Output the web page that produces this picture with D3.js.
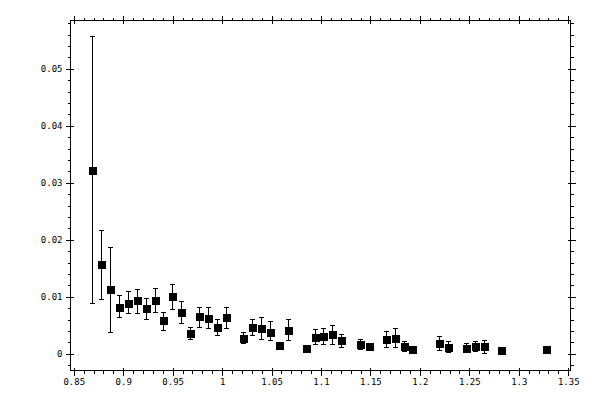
<!DOCTYPE html>
<html>
<head>
<meta charset="utf-8">
<script src="https://cdn.jsdelivr.net/npm/d3@7"></script>
<style>
  html, body { margin: 0; padding: 0; background: #fff; }
  svg { display: block; }
  .axis text { font-family: "DejaVu Sans Mono", monospace; font-size: 9px; fill: #000; }
  .axis line, .axis path { stroke: #000; shape-rendering: crispEdges; }
</style>
</head>
<body>
<div id="chart"></div>
<script>
// measured points: x, y, lower / upper end of the error bar
const xs = [0.8692, 0.878, 0.8874, 0.8965, 0.9056, 0.9147, 0.9238, 0.9323, 0.941, 0.9501,
  0.9592, 0.9683, 0.9774, 0.9865, 0.9953, 1.0047, 1.0219, 1.031, 1.0401, 1.0492,
  1.0583, 1.0674, 1.0856, 1.0947, 1.1028, 1.1119, 1.121, 1.1396, 1.1487, 1.1666,
  1.1757, 1.1844, 1.1928, 1.2201, 1.2292, 1.2474, 1.2565, 1.2657, 1.2828, 1.3284];
const ys = [0.0322, 0.0156, 0.0112, 0.0082, 0.0089, 0.0093, 0.0079, 0.0093, 0.0058, 0.0100,
  0.0072, 0.0035, 0.0065, 0.0062, 0.0046, 0.0063, 0.0026, 0.0046, 0.0044, 0.0038,
  0.0015, 0.0040, 0.0010, 0.0028, 0.0030, 0.0033, 0.0023, 0.0016, 0.0012, 0.0025,
  0.0026, 0.0012, 0.0007, 0.0018, 0.0011, 0.0009, 0.0012, 0.0012, 0.0005, 0.0007];
const lows = [0.0088, 0.0095, 0.0037, 0.0063, 0.0070, 0.0070, 0.0061, 0.0072, 0.0040, 0.0077,
  0.0053, 0.0025, 0.0046, 0.0044, 0.0032, 0.0044, 0.0018, 0.0032, 0.0025, 0.0023,
  0.0012, 0.0023, 0.0008, 0.0016, 0.0017, 0.0017, 0.0011, 0.0007, 0.0010, 0.0011,
  0.0011, 0.0004, 0.0006, 0.0005, 0.0002, 0.0002, 0.0004, 0.0000, 0.0004, 0.0005];
const highs = [0.0557, 0.0217, 0.0187, 0.0103, 0.0110, 0.0113, 0.0097, 0.0115, 0.0073, 0.0122,
  0.0091, 0.0046, 0.0082, 0.0081, 0.0061, 0.0082, 0.0037, 0.0061, 0.0063, 0.0056,
  0.0018, 0.0060, 0.0012, 0.0042, 0.0044, 0.0049, 0.0033, 0.0025, 0.0014, 0.0039,
  0.0044, 0.0021, 0.0009, 0.0030, 0.0021, 0.0018, 0.0021, 0.0023, 0.0007, 0.0009];

const xTicks = [0.85, 0.9, 0.95, 1, 1.05, 1.1, 1.15, 1.2, 1.25, 1.3, 1.35];
const xTickLabels = ['0.85', '0.9', '0.95', '1', '1.05', '1.1', '1.15', '1.2', '1.25', '1.3', '1.35'];
const yTicks = [0, 0.01, 0.02, 0.03, 0.04, 0.05];
const yTickLabels = ['0', '0.01', '0.02', '0.03', '0.04', '0.05'];
const xDomain = [0.8467, 1.3523];
const yDomain = [-0.00293, 0.05847];

const width = 600;
const height = 400;
const plotLeft = 70, plotRight = 570, plotTop = 20, plotBottom = 370;

const svg = d3.select('#chart').append('svg')
  .attr('width', width)
  .attr('height', height);

const x = d3.scaleLinear().domain(xDomain).range([plotLeft, plotRight]);
const y = d3.scaleLinear().domain(yDomain).range([plotBottom, plotTop]);

const xMinor = d3.range(85, 136).map(d => d / 100).filter(d => !xTicks.some(t => Math.abs(t - d) < 1e-9));
const yMinor = d3.range(-1, 30).map(d => d / 500).filter(d => !yTicks.some(t => Math.abs(t - d) < 1e-9));

const labelFor = (ticks, labels) => d => labels[ticks.findIndex(t => Math.abs(t - d) < 1e-9)];

// one side of the frame: outward major ticks, inward major ticks, outward minor ticks
const drawSide = (axisFn, scale, ticks, minor, transform, labels) => {
  const out = axisFn(scale).tickValues(ticks).tickSizeInner(5).tickSizeOuter(0).tickPadding(3)
    .tickFormat(labels ? labelFor(ticks, labels) : () => '');
  svg.append('g').attr('class', 'axis').attr('transform', transform).call(out)
    .select('.domain').remove();

  svg.append('g').attr('class', 'axis').attr('transform', transform)
    .call(axisFn(scale).tickValues(ticks).tickSizeInner(-3).tickSizeOuter(0).tickFormat(() => ''))
    .select('.domain').remove();

  svg.append('g').attr('class', 'axis').attr('transform', transform)
    .call(axisFn(scale).tickValues(minor).tickSizeInner(3).tickSizeOuter(0).tickFormat(() => ''))
    .select('.domain').remove();
};

drawSide(d3.axisBottom, x, xTicks, xMinor, `translate(0.5,${plotBottom + 0.5})`, xTickLabels);
drawSide(d3.axisTop, x, xTicks, xMinor, `translate(0.5,${plotTop + 0.5})`);
drawSide(d3.axisLeft, y, yTicks, yMinor, `translate(${plotLeft + 0.5},0.5)`, yTickLabels);
drawSide(d3.axisRight, y, yTicks, yMinor, `translate(${plotRight + 0.5},0.5)`);

svg.append('rect')
  .attr('x', plotLeft + 0.5)
  .attr('y', plotTop + 0.5)
  .attr('width', plotRight - plotLeft)
  .attr('height', plotBottom - plotTop)
  .attr('fill', 'none')
  .attr('stroke', '#000')
  .attr('shape-rendering', 'crispEdges');

const points = xs.map((d, i) => ({ x: d, y: ys[i], lo: lows[i], hi: highs[i] }));
const col = d => Math.round(x(d.x));
const row = v => Math.round(y(v)) + 0.5;

const bars = svg.append('g')
  .attr('stroke', '#000')
  .attr('stroke-width', 1)
  .attr('shape-rendering', 'crispEdges');

bars.selectAll('line.bar').data(points).join('line')
  .attr('class', 'bar')
  .attr('x1', d => col(d) + 0.5).attr('x2', d => col(d) + 0.5)
  .attr('y1', d => row(d.lo)).attr('y2', d => row(d.hi));

bars.selectAll('line.lo').data(points).join('line')
  .attr('class', 'lo')
  .attr('x1', d => col(d) - 2).attr('x2', d => col(d) + 3)
  .attr('y1', d => row(d.lo)).attr('y2', d => row(d.lo));

bars.selectAll('line.hi').data(points).join('line')
  .attr('class', 'hi')
  .attr('x1', d => col(d) - 2).attr('x2', d => col(d) + 3)
  .attr('y1', d => row(d.hi)).attr('y2', d => row(d.hi));

svg.append('g').selectAll('rect').data(points).join('rect')
  .attr('x', d => col(d) - 3.5)
  .attr('y', d => Math.round(y(d.y)) - 3.5)
  .attr('width', 8)
  .attr('height', 8)
  .attr('fill', '#000')
  .attr('shape-rendering', 'crispEdges');
</script>
</body>
</html>
